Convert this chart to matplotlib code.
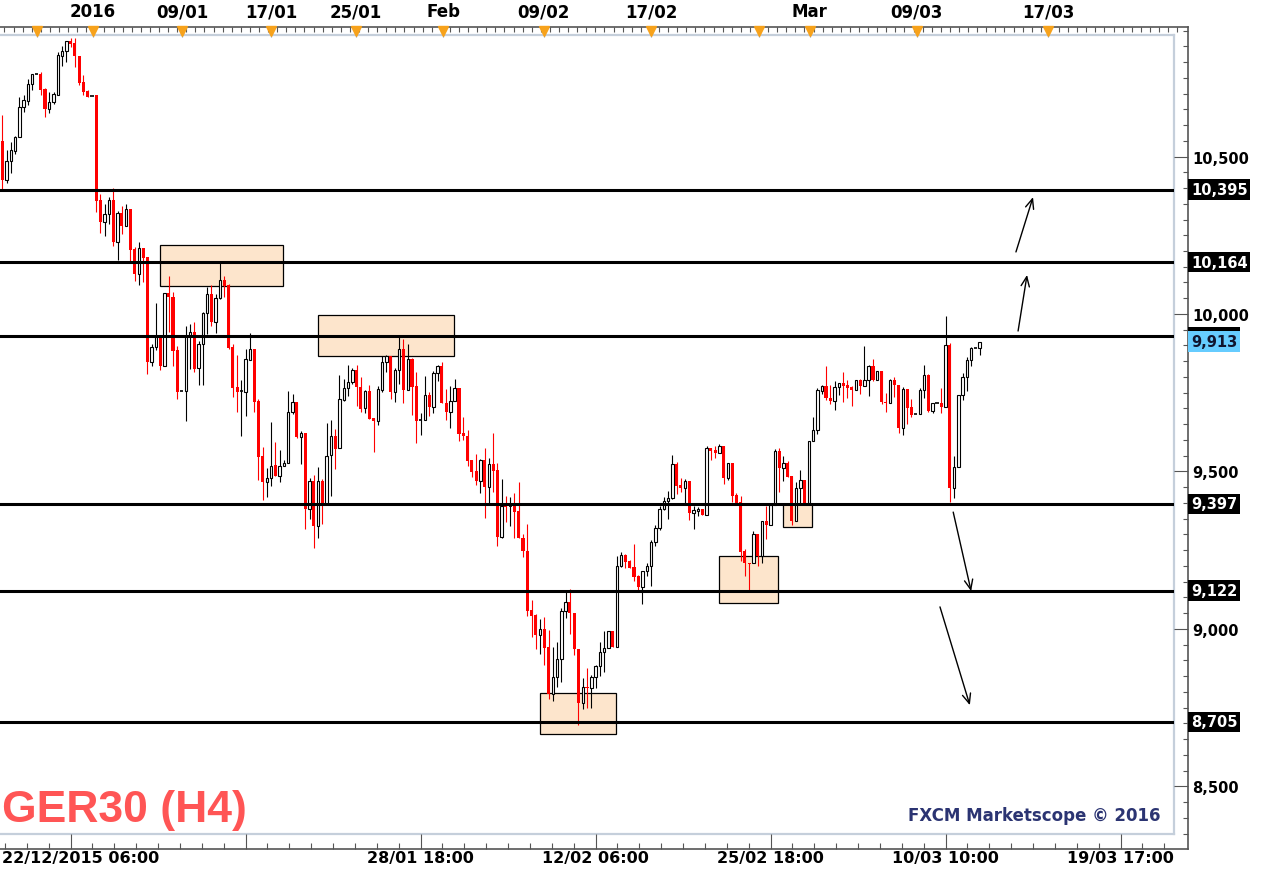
import numpy as np
import matplotlib
matplotlib.use('Agg')
import matplotlib.pyplot as plt
from matplotlib.patches import Rectangle
from matplotlib.ticker import FixedLocator, FuncFormatter, MultipleLocator

# GER30 H4 candles
opens = [10549, 10425, 10486, 10517, 10562, 10657, 10676, 10730, 10762, 10762,
         10714, 10651, 10673, 10695, 10819, 10835, 10867, 10860, 10819, 10736,
         10708, 10692, 10695, 10362, 10292, 10317, 10362, 10228, 10321, 10279,
         10333, 10206, 10127, 10209, 10181, 9848, 9895, 9924, 9835, 10067,
         10054, 9886, 9755, 9755, 9930, 9943, 9828, 9905, 10003, 10063,
         9975, 10051, 10108, 10092, 9895, 9768, 9755, 9752, 9854, 9889,
         9724, 9549, 9467, 9479, 9520, 9486, 9517, 9527, 9689, 9721,
         9610, 9622, 9381, 9470, 9327, 9470, 9397, 9552, 9613, 9574,
         9727, 9765, 9784, 9822, 9768, 9701, 9755, 9670, 9660, 9759,
         9848, 9867, 9752, 9822, 9889, 9759, 9857, 9771, 9663, 9663,
         9743, 9705, 9813, 9835, 9717, 9689, 9724, 9765, 9622, 9613,
         9536, 9501, 9470, 9536, 9451, 9524, 9505, 9292, 9390, 9390,
         9390, 9374, 9289, 9247, 9060, 9044, 8981, 9000, 8943, 8793,
         8847, 8904, 9057, 9086, 9051, 8936, 8765, 8816, 8812, 8847,
         8882, 8927, 8939, 8993, 8943, 9200, 9235, 9216, 9197, 9168,
         9133, 9184, 9200, 9276, 9320, 9381, 9406, 9416, 9524, 9457,
         9447, 9470, 9368, 9374, 9381, 9362, 9574, 9568, 9559, 9581,
         9479, 9527, 9425, 9403, 9247, 9209, 9209, 9301, 9232, 9343,
         9330, 9394, 9565, 9511, 9527, 9486, 9343, 9447, 9473, 9400,
         9597, 9632, 9755, 9771, 9733, 9724, 9768, 9781, 9774, 9768,
         9759, 9790, 9771, 9790, 9835, 9790, 9819, 9721, 9717, 9790,
         9774, 9638, 9762, 9705, 9682, 9682, 9759, 9806, 9692, 9717,
         9717, 9705, 9902, 9447, 9514, 9743, 9800, 9854, 9892, 9892]
highs = [10632, 10521, 10546, 10565, 10689, 10695, 10746, 10762, 10762, 10768,
         10717, 10705, 10705, 10832, 10851, 10867, 10876, 10876, 10819, 10759,
         10711, 10692, 10695, 10381, 10349, 10371, 10400, 10327, 10343, 10349,
         10333, 10213, 10228, 10209, 10181, 9905, 10035, 9924, 10067, 10121,
         10070, 9898, 9755, 9962, 9968, 9975, 9914, 10006, 10086, 10092,
         10063, 10162, 10121, 10095, 9905, 9870, 9790, 9889, 9940, 9889,
         9730, 9578, 9511, 9657, 9594, 9568, 9536, 9755, 9746, 9721,
         9628, 9622, 9479, 9489, 9514, 9476, 9654, 9663, 9635, 9806,
         9794, 9838, 9828, 9838, 9800, 9759, 9775, 9670, 9771, 9867,
         9870, 9867, 9828, 9927, 9921, 9905, 9860, 9816, 9686, 9803,
         9752, 9819, 9838, 9848, 9762, 9771, 9794, 9765, 9673, 9632,
         9536, 9555, 9540, 9574, 9543, 9622, 9527, 9476, 9422, 9419,
         9432, 9467, 9301, 9333, 9092, 9047, 9032, 9038, 8997, 8943,
         8958, 9066, 9120, 9127, 9051, 8936, 8844, 8876, 8854, 8885,
         8958, 8993, 8993, 8993, 9232, 9244, 9238, 9219, 9270, 9171,
         9184, 9209, 9282, 9330, 9390, 9419, 9438, 9552, 9530, 9479,
         9476, 9470, 9390, 9387, 9381, 9581, 9574, 9581, 9587, 9581,
         9527, 9527, 9432, 9422, 9254, 9209, 9311, 9301, 9343, 9390,
         9394, 9571, 9574, 9549, 9533, 9486, 9467, 9505, 9473, 9597,
         9673, 9765, 9774, 9835, 9774, 9787, 9781, 9816, 9790, 9771,
         9790, 9794, 9898, 9838, 9857, 9819, 9819, 9749, 9794, 9800,
         9774, 9768, 9762, 9730, 9682, 9765, 9838, 9810, 9717, 9717,
         9765, 9994, 9908, 9549, 9743, 9813, 9863, 9895, 9892, 9911]
lows = [10397, 10416, 10448, 10508, 10562, 10641, 10663, 10711, 10762, 10695,
        10625, 10638, 10667, 10695, 10787, 10800, 10848, 10784, 10727, 10695,
        10689, 10692, 10324, 10257, 10248, 10286, 10216, 10171, 10254, 10279,
        10165, 10105, 10092, 10102, 9810, 9835, 9886, 9822, 9835, 9943,
        9835, 9730, 9755, 9660, 9825, 9816, 9775, 9775, 9937, 9962,
        9940, 10048, 10054, 9889, 9736, 9689, 9613, 9676, 9854, 9689,
        9473, 9410, 9419, 9454, 9486, 9467, 9517, 9527, 9682, 9606,
        9524, 9317, 9349, 9257, 9289, 9333, 9397, 9422, 9508, 9574,
        9724, 9740, 9778, 9708, 9689, 9686, 9667, 9562, 9648, 9752,
        9816, 9730, 9721, 9778, 9717, 9759, 9679, 9590, 9616, 9663,
        9676, 9686, 9787, 9717, 9663, 9638, 9724, 9597, 9600, 9517,
        9482, 9457, 9432, 9352, 9400, 9435, 9263, 9289, 9340, 9327,
        9289, 9289, 9228, 9041, 8974, 8936, 8920, 8885, 8778, 8771,
        8816, 8832, 9035, 8984, 8917, 8695, 8746, 8749, 8749, 8812,
        8851, 8863, 8939, 8943, 8943, 9197, 9193, 9193, 9152, 9124,
        9079, 9168, 9136, 9263, 9314, 9378, 9349, 9413, 9429, 9435,
        9397, 9346, 9318, 9359, 9362, 9362, 9536, 9543, 9559, 9460,
        9473, 9403, 9400, 9216, 9168, 9124, 9209, 9200, 9209, 9286,
        9330, 9394, 9435, 9470, 9482, 9330, 9343, 9400, 9400, 9400,
        9597, 9619, 9746, 9727, 9714, 9695, 9743, 9721, 9733, 9708,
        9759, 9746, 9771, 9740, 9787, 9790, 9714, 9689, 9717, 9737,
        9622, 9616, 9651, 9673, 9682, 9682, 9733, 9689, 9686, 9717,
        9686, 9705, 9403, 9416, 9514, 9727, 9755, 9835, 9892, 9870]
closes = [10425, 10486, 10521, 10562, 10657, 10679, 10730, 10762, 10762, 10711,
          10651, 10673, 10698, 10822, 10835, 10867, 10857, 10819, 10733, 10705,
          10689, 10692, 10359, 10292, 10317, 10362, 10228, 10321, 10279, 10333,
          10203, 10127, 10209, 10178, 9848, 9895, 9927, 9835, 10067, 10054,
          9882, 9752, 9755, 9930, 9943, 9825, 9905, 10003, 10063, 9975,
          10051, 10108, 10089, 9892, 9765, 9752, 9755, 9857, 9889, 9721,
          9546, 9467, 9479, 9517, 9486, 9517, 9527, 9689, 9721, 9610,
          9622, 9381, 9470, 9327, 9470, 9397, 9549, 9613, 9571, 9730,
          9765, 9784, 9822, 9768, 9698, 9755, 9667, 9660, 9762, 9848,
          9867, 9752, 9822, 9889, 9759, 9857, 9768, 9660, 9663, 9743,
          9705, 9813, 9835, 9717, 9689, 9724, 9765, 9619, 9613, 9533,
          9498, 9470, 9536, 9451, 9524, 9501, 9292, 9390, 9387, 9390,
          9371, 9289, 9247, 9057, 9041, 8981, 9000, 8939, 8793, 8847,
          8904, 9057, 9086, 9051, 8936, 8765, 8816, 8812, 8847, 8882,
          8927, 8939, 8993, 8943, 9200, 9235, 9213, 9193, 9165, 9133,
          9184, 9200, 9276, 9320, 9381, 9406, 9416, 9524, 9454, 9447,
          9470, 9368, 9378, 9381, 9362, 9574, 9565, 9559, 9581, 9479,
          9527, 9422, 9400, 9244, 9209, 9206, 9301, 9232, 9343, 9330,
          9394, 9565, 9511, 9527, 9482, 9343, 9447, 9473, 9400, 9597,
          9632, 9759, 9771, 9733, 9724, 9768, 9781, 9771, 9765, 9759,
          9790, 9771, 9790, 9835, 9790, 9819, 9721, 9717, 9790, 9774,
          9638, 9762, 9701, 9679, 9682, 9759, 9806, 9692, 9717, 9717,
          9705, 9902, 9447, 9514, 9743, 9800, 9854, 9892, 9892, 9911]

levels = [10395, 10164, 9930, 9397, 9122, 8705]
level_labels = ['10,395', '10,164', '', '9,397', '9,122', '8,705']
last_price = 9913
last_label = '9,913'

# zones: (first candle, last candle, low, high)
zones = [(36.95, 65.77, 10089, 10219),
         (73.97, 105.84, 9867, 9997),
         (125.98, 143.79, 8666, 8797),
         (167.93, 181.75, 9082, 9232),
         (182.92, 189.71, 9324, 9397)]
# arrows: (tail, head) in (candle, price)
arrows = [((237.5, 10197), (241.5, 10371)),
          ((238.0, 9946), (240.1, 10124)),
          ((222.8, 9371), (227.0, 9120)),
          ((219.7, 9070), (226.7, 8758))]

top_ticks = [8.13, 21.25, 42.1, 62.96, 82.87, 103.26, 126.9, 151.99, 177.3, 189.2, 214.3, 245.0]
top_labels = ['', '2016', '09/01', '17/01', '25/01', 'Feb', '09/02', '17/02', '', 'Mar', '09/03', '17/03']
bottom_ticks = [16, 57, 98, 139, 180, 221, 262]
bottom_labels = ['', '', '28/01 18:00', '12/02 06:00', '25/02 18:00', '10/03 10:00', '19/03 17:00']
first_label = '22/12/2015 06:00'

plt.rcParams['font.family'] = 'DejaVu Sans'
plt.rcParams['font.weight'] = 'bold'

W, H = 1270, 870
step, x0 = 4.268, 2.3


def box(l, t, r, b):
    return [l / W, 1 - b / H, (r - l) / W, (b - t) / H]


def price_at(y):
    return 11000.1 - 3.175 * y


fig = plt.figure(figsize=(W / 100, H / 100), dpi=100)

ax = fig.add_axes(box(0, 36, 1174, 835))
ax.set_xlim(-x0 / step, (1174 - x0) / step)
ax.set_ylim(price_at(835), price_at(36))
ax.set_xticks([])
ax.set_yticks([])
for s in ['top', 'right', 'bottom']:
    ax.spines[s].set_color('#c5cfdb')
    ax.spines[s].set_linewidth(1.6)
ax.spines['left'].set_visible(False)

o = np.array(opens)
h = np.array(highs)
l = np.array(lows)
c = np.array(closes)
idx = np.arange(len(o))
up = c > o
down = c < o
flat = c == o

for z in zones:
    ax.add_patch(Rectangle((z[0], z[2]), z[1] - z[0], z[3] - z[2],
                           facecolor='#fde5cc', edgecolor='black', lw=0.9, zorder=1))

ax.vlines(idx[~down], l[~down], h[~down], color='black', lw=0.8, zorder=2)
ax.vlines(idx[down], l[down], h[down], color='#ff0000', lw=0.8, zorder=2)
ax.bar(idx[up], c[up] - o[up], bottom=o[up], width=0.58, facecolor='white',
       edgecolor='black', linewidth=0.8, zorder=2.5)
ax.bar(idx[down], o[down] - c[down], bottom=c[down], width=0.72, color='#ff0000',
       linewidth=0, zorder=2.5)
ax.hlines(o[flat], idx[flat] - 0.38, idx[flat] + 0.38, color='black', lw=1.2, zorder=2.5)

for lv in levels:
    ax.axhline(lv, color='black', lw=2.2, zorder=3)

for tail, head in arrows:
    ax.annotate('', xy=head, xytext=tail, zorder=4,
                arrowprops=dict(arrowstyle='->,head_length=0.7,head_width=0.3',
                                color='black', lw=1, shrinkA=0, shrinkB=0))

# outer frame with the price and time scales
frame = fig.add_axes(box(0, 28, 1188, 850), facecolor='none')
frame.set_xlim(-x0 / step, (1188 - x0) / step)
frame.set_ylim(price_at(850), price_at(28))
frame.spines['left'].set_visible(False)
for s in ['top', 'right', 'bottom']:
    frame.spines[s].set_color('#555555')
    frame.spines[s].set_linewidth(1.2)

frame.yaxis.tick_right()
frame.yaxis.set_major_locator(MultipleLocator(500))
frame.yaxis.set_minor_locator(MultipleLocator(50))
frame.yaxis.set_major_formatter(FuncFormatter(lambda v, p: f'{v:,.0f}'))
frame.tick_params(axis='y', which='major', direction='in', length=10, width=0.8,
                  color='#555555', pad=3, labelsize=10.5)
frame.tick_params(axis='y', which='minor', direction='in', length=3.6, width=0.8,
                  color='#555555')

frame.xaxis.set_major_locator(FixedLocator(bottom_ticks))
frame.xaxis.set_minor_locator(FixedLocator(np.arange(16 - 5.125 * 3, 277, 5.125)))
frame.set_xticklabels(bottom_labels)
frame.tick_params(axis='x', which='major', direction='in', length=10.8, width=0.8,
                  color='#555555', pad=0.5, labelsize=11.5)
frame.tick_params(axis='x', which='minor', direction='in', length=4.3, width=0.8,
                  color='#555555')
frame.text(2 / 1188, -1.5 / 822, first_label, transform=frame.transAxes,
           ha='left', va='top', fontsize=11.5)

top = frame.twiny()
top.set_xlim(frame.get_xlim())
for s in top.spines.values():
    s.set_visible(False)
top.xaxis.set_major_locator(FixedLocator(top_ticks))
top.xaxis.set_minor_locator(FixedLocator(np.arange(0.5, 277, 2.13)))
top.set_xticklabels(top_labels)
top.tick_params(axis='x', which='major', direction='in', length=7, width=0.8,
                color='#8a96a8', pad=5, labelsize=12)
top.tick_params(axis='x', which='minor', direction='in', length=3.6, width=0.8,
                color='#555555')
top.plot(top_ticks, [1 - 3.5 / 822] * len(top_ticks), ls='none', marker='v', ms=6.5,
         color='#f7a21b', mec='#f7a21b', transform=top.get_xaxis_transform(),
         clip_on=False, zorder=5)

# level tags on the price scale
ytf = frame.get_yaxis_transform()
tag_h = 18 * 3.175
for lv, lab in zip(levels, level_labels):
    if lab:
        frame.text(1 + 3 / 1188, lv, lab, transform=ytf, ha='left', va='center',
                   color='white', fontsize=10.5, clip_on=False, zorder=6,
                   bbox=dict(boxstyle='square,pad=0.18', fc='black', ec='none'))
    else:
        frame.add_patch(Rectangle((1.0, lv - tag_h / 2), 52 / 1188, tag_h, transform=ytf,
                                  fc='black', ec='none', clip_on=False, zorder=5))
frame.text(1 + 3 / 1188, last_price, last_label, transform=ytf, ha='left', va='center',
           color='#10142e', fontsize=10.5, clip_on=False, zorder=7,
           bbox=dict(boxstyle='square,pad=0.18', fc='#66ccff', ec='none'))

fig.text(2 / W, 1 - 822 / H, 'GER30 (H4)', ha='left', va='baseline',
         fontsize=32, color='#ff5555', family='Liberation Sans', weight='bold')
fig.text(1160 / W, 1 - 821 / H, 'FXCM Marketscope \u00a9 2016', ha='right',
         va='baseline', fontsize=12, color='#2b3472')

fig.savefig('out.png', dpi=100)
